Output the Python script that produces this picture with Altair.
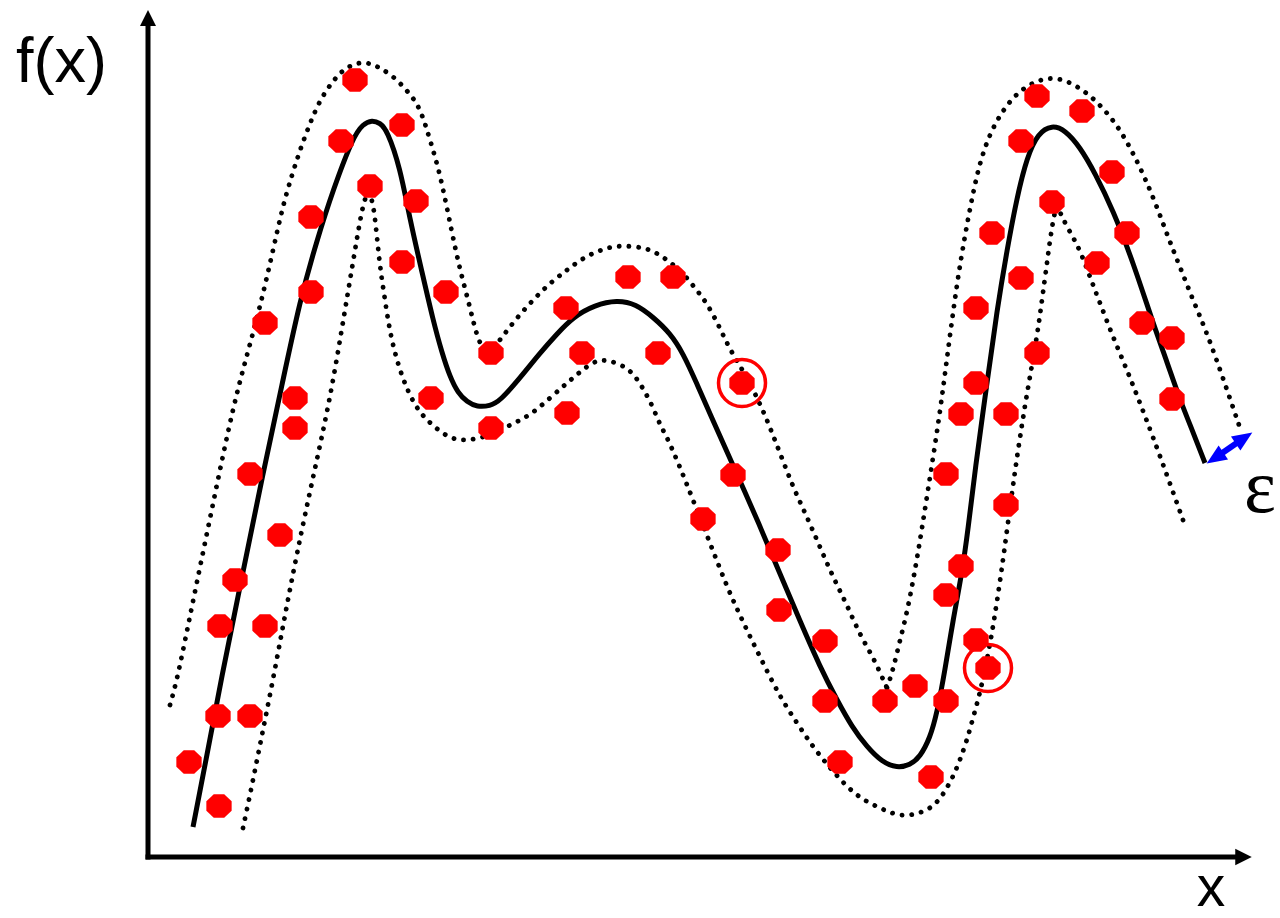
import altair as alt
import pandas as pd

# Coordinates in chart units: origin at the corner where the two axes meet.

# Training samples (red octagons)
pts_x = [207, 193, 254, 222, 268, 163, 254, 163, 298, 117, 343, 418, 480, 525, 434, 510,
         147, 283, 147, 343, 419, 102, 585, 132, 555, 630, 87, 72, 117, 631, 677,
         70, 102, 41, 71, 677, 737, 767, 798, 828, 692, 783, 798, 813, 858, 798,
         813, 858, 828, 889, 828, 873, 844, 904, 873, 889, 934, 964, 979, 949, 994,
         1024, 1024]
pts_y = [777, 716, 732, 671, 656, 640, 595, 565, 565, 534, 504, 549, 580, 580, 504, 504,
         459, 459, 429, 429, 444, 383, 382, 322, 338, 307, 277, 231, 231, 247, 216,
         141, 141, 95, 51, 156, 156, 171, 156, 217, 95, 80, 262, 291, 352, 383,
         443, 443, 474, 504, 549, 579, 624, 655, 716, 761, 746, 685, 624, 594, 534,
         519, 458]

# Samples lying outside the epsilon tube (ringed)
out_x = [594, 840]
out_y = [474, 189]

# Fitted regression function
fit_x = [45, 59, 73, 94, 115, 134, 152, 169, 185, 205, 215, 224, 232, 239, 252, 262, 274,
         285, 294, 302, 310, 319, 329, 342, 352, 372, 392, 408, 425, 447, 469, 488, 505,
         522, 535, 549, 562, 585, 612, 632, 652, 672, 689, 704, 719, 734, 749, 762, 772,
         782, 789, 797, 805, 814, 820, 827, 839, 849, 859, 869, 879, 890, 904, 917, 932,
         947, 965, 985, 1005, 1019, 1032, 1045, 1057]
fit_y = [30, 102, 177, 280, 384, 472, 557, 617, 667, 720, 733, 737, 734, 727, 690, 637, 585,
         537, 504, 480, 464, 455, 450, 451, 456, 479, 504, 522, 540, 552, 557, 553, 540,
         524, 504, 473, 443, 392, 331, 283, 236, 190, 157, 130, 110, 95, 89, 92, 100,
         119, 144, 187, 237, 284, 327, 387, 474, 547, 607, 660, 700, 724, 732, 727, 710,
         684, 647, 595, 534, 495, 457, 425, 394]

# Upper boundary of the epsilon tube
up_x = [22, 29, 40, 52, 67, 85, 99, 112, 124, 135, 144, 152, 162, 172, 184, 195, 204, 214,
        224, 232, 242, 252, 260, 269, 276, 282, 292, 304, 312, 322, 330, 340, 352, 367,
        385, 402, 419, 435, 452, 467, 482, 497, 509, 522, 535, 547, 559, 572, 582, 599,
        612, 619, 632, 645, 659, 672, 685, 699, 712, 725, 734, 739, 745, 752, 759, 769,
        780, 792, 800, 809, 817, 825, 832, 842, 855, 869, 887, 905, 922, 939, 952, 965,
        975, 985, 997, 1009, 1020, 1032, 1045, 1059, 1075, 1092]
up_y = [152, 177, 231, 290, 363, 450, 502, 550, 602, 652, 682, 707, 734, 757, 775, 787, 792,
        795, 793, 789, 783, 774, 765, 754, 737, 717, 684, 624, 587, 550, 515, 502, 517, 537,
        557, 574, 587, 599, 607, 611, 611, 609, 604, 595, 584, 569, 554, 529, 507, 480,
        453, 437, 404, 370, 340, 310, 280, 252, 222, 200, 180, 169, 187, 217, 244, 297,
        367, 444, 507, 574, 622, 664, 695, 724, 747, 764, 776, 780, 775, 764, 752, 737,
        722, 704, 679, 650, 620, 590, 557, 524, 479, 429]
up_cusps = [340, 739]

# Lower boundary of the epsilon tube
lo_x = [95, 102, 112, 125, 137, 149, 165, 182, 197, 207, 215, 220, 225, 229, 232, 237, 242,
        250, 260, 270, 279, 290, 302, 312, 322, 337, 352, 369, 385, 402, 419, 432, 445, 454,
        462, 474, 485, 495, 505, 512, 519, 532, 545, 562, 579, 595, 612, 632, 649, 665,
        682, 699, 715, 732, 745, 759, 772, 785, 795, 805, 812, 819, 825, 832, 839, 845,
        850, 855, 859, 865, 872, 880, 889, 894, 899, 902, 906, 909, 914, 922, 932, 942,
        952, 965, 979, 992, 1005, 1020, 1035]
lo_y = [29, 62, 112, 177, 242, 304, 380, 457, 547, 607, 654, 665, 657, 620, 590, 557, 524,
        492, 465, 447, 437, 427, 419, 417, 417, 420, 427, 435, 444, 459, 474, 485, 495, 497,
        496, 492, 484, 469, 450, 432, 420, 390, 357, 314, 270, 235, 200, 160, 134, 110,
        89, 70, 57, 49, 43, 41, 44, 50, 62, 80, 97, 117, 139, 164, 197, 230,
        262, 297, 327, 372, 420, 470, 520, 557, 594, 617, 642, 652, 640, 625, 607, 580,
        554, 520, 487, 454, 420, 379, 337]
lo_cusps = [220, 909]

# Axis arrows and the epsilon marker
axis_len_x = 1090
axis_len_y = 833
eps_x = [1067, 1096]
eps_y = [399, 419]

xs = alt.Scale(domain=[-148, 1132], nice=False, zero=False)
ys = alt.Scale(domain=[-61, 857], nice=False, zero=False)


def X(field="x"):
    return alt.X(f"{field}:Q", scale=xs, axis=None)


def Y(field="y"):
    return alt.Y(f"{field}:Q", scale=ys, axis=None)


def segmented(xv, yv, cusps):
    rows, seg = [], 0
    for i, (a, b) in enumerate(zip(xv, yv)):
        rows.append({"x": a, "y": b, "i": i, "seg": seg})
        if a in cusps:
            seg += 1
            rows.append({"x": a, "y": b, "i": i, "seg": seg})
    return pd.DataFrame(rows)


dot_style = dict(stroke="black", strokeWidth=4.8, strokeCap="round",
                 strokeDash=[0.1, 9.6], interpolate="basis")


def tube(df):
    return alt.Chart(df).mark_line(**dot_style).encode(
        x=X(), y=Y(), order="i:Q", detail="seg:N")


upper = tube(segmented(up_x, up_y, up_cusps))
lower = tube(segmented(lo_x, lo_y, lo_cusps))

fit_df = pd.DataFrame({"x": fit_x, "y": fit_y, "i": range(len(fit_x))})
fit = alt.Chart(fit_df).mark_line(
    color="black", strokeWidth=5, interpolate="basis", strokeCap="butt"
).encode(x=X(), y=Y(), order="i:Q")

octagon = ("M-0.414,-0.92L0.414,-0.92L1,-0.38L1,0.38L0.414,0.92"
           "L-0.414,0.92L-1,0.38L-1,-0.38Z")
pts_df = pd.DataFrame({"x": pts_x + out_x, "y": pts_y + out_y})
points = alt.Chart(pts_df).mark_point(
    shape=octagon, filled=True, color="#ff0000", size=640, opacity=1, strokeWidth=0
).encode(x=X(), y=Y())

rings = alt.Chart(pd.DataFrame({"x": out_x, "y": out_y})).mark_point(
    shape="circle", filled=False, color="#ff0000", size=2209, strokeWidth=3.5, opacity=1
).encode(x=X(), y=Y())

# Axes drawn as rules with arrowheads
axes_df = pd.DataFrame({"x": [0, 0], "y": [0, 0], "x2": [axis_len_x, 0], "y2": [0, axis_len_y]})
axes = alt.Chart(axes_df).mark_rule(color="black", strokeWidth=5, strokeCap="square").encode(
    x=X(), y=Y(), x2="x2:Q", y2="y2:Q")

head_up = alt.Chart(pd.DataFrame({"x": [0], "y": [839]})).mark_point(
    shape="M-1,1L0,-1L1,1Z", filled=True, color="black", size=256, opacity=1, strokeWidth=0
).encode(x=X(), y=Y())
head_right = alt.Chart(pd.DataFrame({"x": [1095.5], "y": [0]})).mark_point(
    shape="M-1,-1L1,0L-1,1Z", filled=True, color="black", size=272, opacity=1, strokeWidth=0
).encode(x=X(), y=Y())

# Epsilon width marker (double-headed blue arrow)
eps_df = pd.DataFrame({"x": [eps_x[0]], "y": [eps_y[0]], "x2": [eps_x[1]], "y2": [eps_y[1]]})
eps_shaft = alt.Chart(eps_df).mark_rule(color="#0000ff", strokeWidth=6).encode(
    x=X(), y=Y(), x2="x2:Q", y2="y2:Q")
tri = "M-1,-0.85L1,0L-1,0.85Z"
eps_head_a = alt.Chart(pd.DataFrame({"x": [eps_x[1]], "y": [eps_y[1]]})).mark_point(
    shape=tri, filled=True, color="#0000ff", size=400, angle=326.3, opacity=1, strokeWidth=0
).encode(x=X(), y=Y())
eps_head_b = alt.Chart(pd.DataFrame({"x": [eps_x[0]], "y": [eps_y[0]]})).mark_point(
    shape=tri, filled=True, color="#0000ff", size=400, angle=146.3, opacity=1, strokeWidth=0
).encode(x=X(), y=Y())

lab_fx = alt.Chart(pd.DataFrame({"x": [-132], "y": [775], "t": ["f(x)"]})).mark_text(
    font="Liberation Sans", fontSize=63, align="left", baseline="alphabetic", color="black"
).encode(x=X(), y=Y(), text="t:N")
lab_x = alt.Chart(pd.DataFrame({"x": [1063], "y": [-49], "t": ["x"]})).mark_text(
    font="Liberation Sans", fontSize=57, align="center", baseline="alphabetic", color="black"
).encode(x=X(), y=Y(), text="t:N")
lab_eps = alt.Chart(pd.DataFrame({"x": [1096], "y": [345], "t": ["ε"]})).mark_text(
    font="Liberation Serif", fontSize=76, align="left", baseline="alphabetic", color="black"
).encode(x=X(), y=Y(), text="t:N")

chart = alt.layer(
    upper, lower, fit, points, rings, axes, head_up, head_right,
    eps_shaft, eps_head_a, eps_head_b, lab_fx, lab_x, lab_eps
).properties(
    width=1280, height=918, autosize=alt.AutoSizeParams(type="none"), padding=0,
    background="white"
).configure_view(strokeWidth=0)

chart.save("out.html", embed_options={"renderer": "svg", "actions": False})
